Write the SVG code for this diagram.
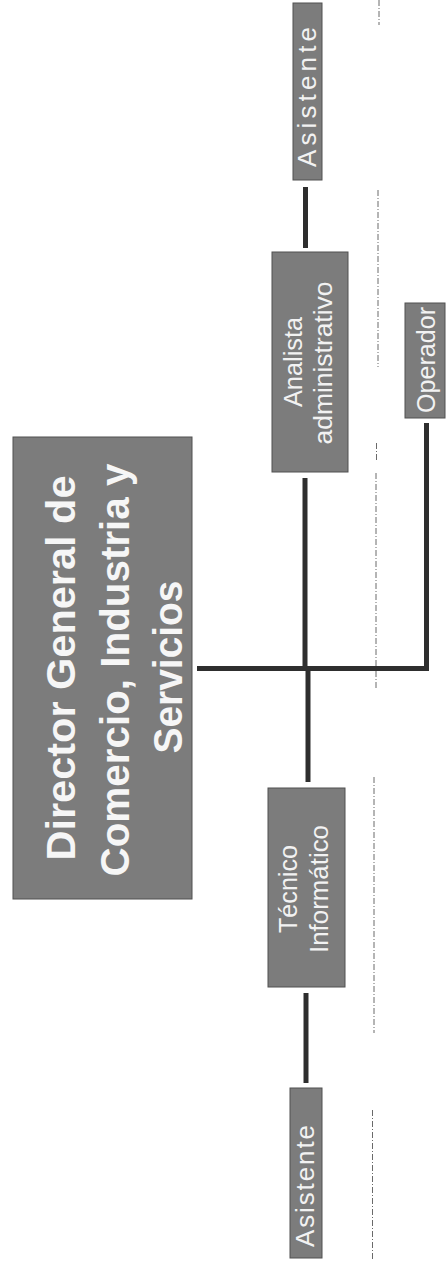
<svg xmlns="http://www.w3.org/2000/svg" width="447" height="1261" viewBox="0 0 447 1261">
  <style>
    .box { fill: #7c7c7c; stroke: #505050; stroke-width: 1; }
    .title { font-family: "Liberation Sans", Arial, sans-serif; font-weight: bold; font-size: 41px; fill: #f6f6f6; text-anchor: middle; }
    .label { font-family: "Liberation Sans", Arial, sans-serif; font-size: 25px; fill: #f2f2f2; text-anchor: middle; }
    .small { font-size: 26px; }
    .link { stroke: #2e2e2e; stroke-width: 5; fill: none; stroke-linecap: butt; }
    .fold { stroke: #6a6a6a; stroke-width: 1; stroke-dasharray: 6 2 1 2; fill: none; }
  </style>

  <!-- faint crease running down the page -->
  <g id="crease">
    <line class="fold" x1="379" y1="0" x2="379" y2="25"/>
    <line class="fold" x1="378" y1="190" x2="378" y2="367"/>
    <line class="fold" x1="376.5" y1="443" x2="376.5" y2="462"/>
    <line class="fold" x1="376" y1="473" x2="376" y2="690"/>
    <line class="fold" x1="374" y1="777" x2="374" y2="1033"/>
    <line class="fold" x1="372.5" y1="1110" x2="372.5" y2="1261"/>
  </g>

  <!-- connectors -->
  <g id="connectors">
    <line class="link" x1="197" y1="668.5" x2="429" y2="668.5"/>
    <line class="link" x1="305" y1="478" x2="305" y2="671"/>
    <line class="link" x1="308" y1="666" x2="308" y2="782"/>
    <line class="link" x1="426.5" y1="423" x2="426.5" y2="671"/>
    <line class="link" x1="305.5" y1="187" x2="305.5" y2="248"/>
    <line class="link" x1="306" y1="993" x2="306" y2="1083"/>
  </g>

  <!-- top of the chart -->
  <g id="director">
    <rect class="box" x="13" y="437" width="179" height="462"/>
    <text class="title" transform="translate(75 668) rotate(-90)" textLength="385" lengthAdjust="spacingAndGlyphs">Director General de</text>
    <text class="title" transform="translate(129 670) rotate(-90)" textLength="413" lengthAdjust="spacingAndGlyphs">Comercio, Industria y</text>
    <text class="title" transform="translate(182 667) rotate(-90)" textLength="173" lengthAdjust="spacingAndGlyphs">Servicios</text>
  </g>

  <g id="analista">
    <rect class="box" x="272" y="252" width="76" height="220"/>
    <text class="label" transform="translate(302 362) rotate(-90)" textLength="90" lengthAdjust="spacingAndGlyphs">Analista</text>
    <text class="label" transform="translate(332 363) rotate(-90)" textLength="163" lengthAdjust="spacingAndGlyphs">administrativo</text>
  </g>

  <g id="asistente-analista">
    <rect class="box" x="293" y="3" width="29" height="177"/>
    <text class="label small" transform="translate(316 97) rotate(-90)" textLength="140" lengthAdjust="spacing">Asistente</text>
  </g>

  <g id="operador">
    <rect class="box" x="405" y="303" width="40" height="115"/>
    <text class="label" transform="translate(435 360) rotate(-90)" textLength="106" lengthAdjust="spacingAndGlyphs">Operador</text>
  </g>

  <g id="tecnico">
    <rect class="box" x="268" y="788" width="77" height="199"/>
    <text class="label" transform="translate(297 889) rotate(-90)" textLength="88" lengthAdjust="spacingAndGlyphs">Técnico</text>
    <text class="label" transform="translate(328 889) rotate(-90)" textLength="128" lengthAdjust="spacingAndGlyphs">Informático</text>
  </g>

  <g id="asistente-tecnico">
    <rect class="box" x="290" y="1088" width="32" height="170"/>
    <text class="label small" transform="translate(314 1186) rotate(-90)" textLength="122" lengthAdjust="spacing">Asistente</text>
  </g>
</svg>
